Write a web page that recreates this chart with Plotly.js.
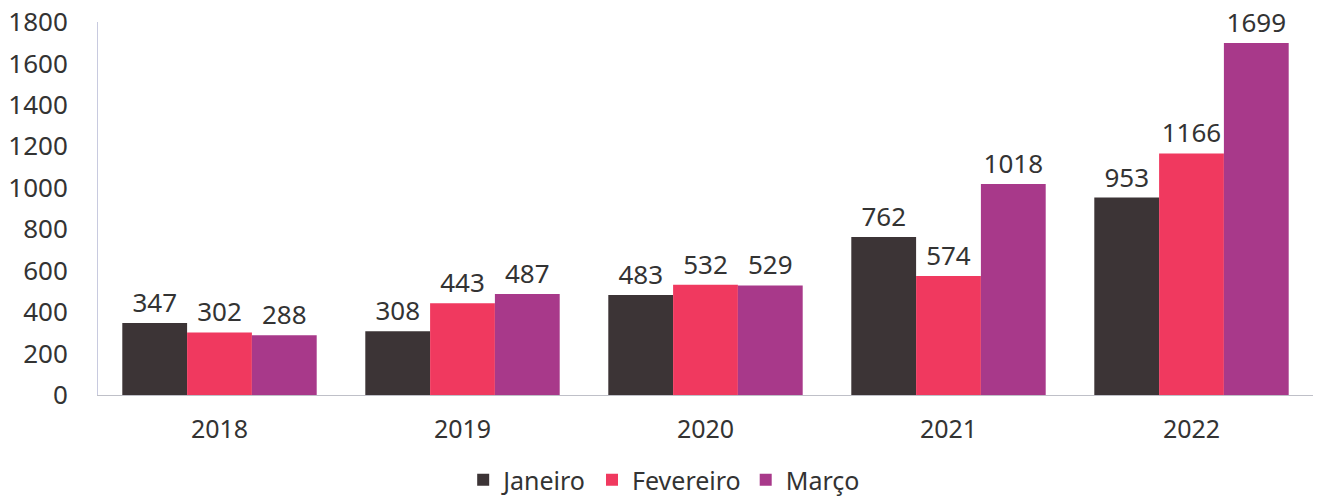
<!DOCTYPE html>
<html><head><meta charset="utf-8">
<script src="https://cdn.plot.ly/plotly-3.0.1.min.js"></script>
<style>html,body{margin:0;padding:0;background:#fff;}#chart{width:1321px;height:498px;}</style>
</head><body><div id="chart"></div>
<script>
const years = ['2018','2019','2020','2021','2022'];
const janeiro = [347, 308, 483, 762, 953];
const fevereiro = [302, 443, 532, 574, 1166];
const marco = [288, 487, 529, 1018, 1699];
const seriesNames = ['Janeiro','Fevereiro','Março'];
const colors = ['#3c3436','#f0395f','#a8398a'];
const font = 'Noto Sans, Open Sans, sans-serif';
const vals = [janeiro, fevereiro, marco];
const data = vals.map((v,i)=>({
  type:'bar', x:years, y:v, name:seriesNames[i],
  marker:{color:colors[i]},
  text:v.map(String), textposition:'outside', cliponaxis:false,
  textfont:{family:font, size:26, color:'#333'}
}));
const layout = {
  width:1321, height:498,
  margin:{l:98, r:8, t:22, b:103},
  paper_bgcolor:'#fff', plot_bgcolor:'#fff',
  barmode:'group', bargap:0.2, bargroupgap:0,
  font:{family:font, size:25, color:'#333'},
  xaxis:{showline:true, linecolor:'#bfc0c8', linewidth:1, showgrid:false, ticks:'', tickfont:{size:25,color:'#333'}, ticklabelstandoff:12, automargin:false},
  yaxis:{range:[0,1800], dtick:200, showline:true, linecolor:'#c8cadf', linewidth:1, showgrid:false, zeroline:false, ticks:'', tickfont:{size:26,color:'#333'}, ticklabelstandoff:24, automargin:false},
  legend:{orientation:'h', x:0.466, xanchor:'center', yref:'container', y:0.036, yanchor:'middle', font:{size:25,color:'#333'}, traceorder:'normal'},
  showlegend:true
};
Plotly.newPlot('chart', data, layout, {displayModeBar:false, staticPlot:true});
</script></body></html>
